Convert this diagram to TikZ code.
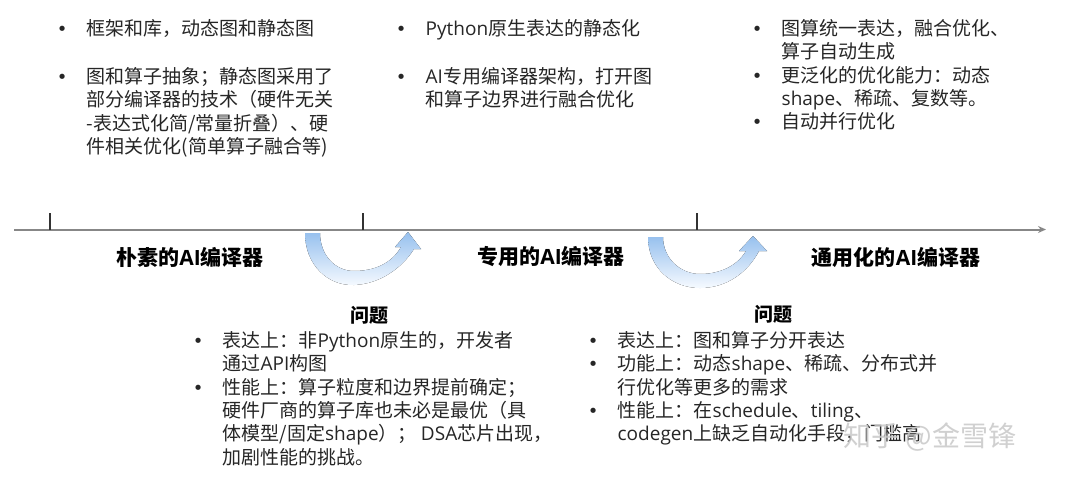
\documentclass[tikz,border=0pt]{standalone}
\usepackage{fontspec}
\setmainfont{Noto Sans CJK SC}
\newfontfamily\latfont{Open Sans}
\newfontfamily\bulfont{DejaVu Sans}
\usetikzlibrary{arrows.meta}
\definecolor{txt}{RGB}{38,38,38}
\definecolor{axisc}{RGB}{135,135,135}
\definecolor{tickc}{RGB}{50,50,50}
\definecolor{blueT}{RGB}{150,192,238}
\definecolor{blueM}{RGB}{200,223,248}
\definecolor{blueB}{RGB}{246,250,255}
\definecolor{wmc}{RGB}{200,200,200}
\newcommand\la[1]{{\latfont #1}}
\newcommand\bi{\makebox[30.5pt][l]{\makebox[12pt][c]{\bulfont\fontsize{18pt}{18pt}\selectfont •}}}
\newcommand\ci{\hspace*{30.5pt}}
\newcommand\fs{\rule{0pt}{17pt}}
\begin{document}
\begin{tikzpicture}[x=1pt,y=-1pt,
  body/.style={anchor=north west, inner sep=0pt, align=left, text=txt, font=\fontsize{19pt}{23.4pt}\selectfont},
  head/.style={inner sep=0pt, text=black, font=\fontsize{21pt}{24pt}\selectfont\bfseries},
  qhead/.style={inner sep=0pt, text=black, font=\fontsize{19pt}{22pt}\selectfont\bfseries},
  band/.style={top color=blueT, middle color=blueM, bottom color=blueB, draw=none},
  axisline/.style={draw=axisc, line width=2pt, -{Stealth[length=8pt,width=7pt]}},
  tickline/.style={draw=tickc, line width=1.8pt}]
\useasboundingbox (0,0) rectangle (1080,477);
\fill[white] (0,0) rectangle (1080,477);

% timeline
\coordinate (ax0) at (14,229.5);
\coordinate (ax1) at (1046,229.5);
\draw[axisline] (ax0) -- (ax1);
\coordinate (t1) at (50,229.5);
\coordinate (t2) at (363,229.5);
\coordinate (t3) at (697,229.5);
\draw[tickline] (t1) -- ++(0,-17);
\draw[tickline] (t2) -- ++(0,-17);
\draw[tickline] (t3) -- ++(0,-17);

% curved arrows
\fill[band] (305,233) .. controls (305,265) and (328,286) .. (354,285)
  .. controls (380,284) and (402,268) .. (414,249) -- (421,249) -- (408,232) -- (395,247) -- (401,247)
  .. controls (392,263) and (375,271) .. (354,271)
  .. controls (335,271) and (320,255) .. (320,233) -- cycle;
\fill[band] (648,237) .. controls (648,268) and (672,288) .. (700,288)
  .. controls (727,288) and (748,272) .. (759,251) -- (767,251) -- (753,236) -- (739,251) -- (746,251)
  .. controls (737,266) and (720,274) .. (700,274)
  .. controls (680,274) and (663,258) .. (663,237) -- cycle;

% stage titles
\node[head] (h1) at (190,257) {朴素的\la{AI}编译器};
\node[head] (h2) at (551,257) {专用的\la{AI}编译器};
\node[head] (h3) at (896,257) {通用化的\la{AI}编译器};

% top texts
\node[body] (c1) at (56,18) {\fs\bi 框架和库，动态图和静态图\\[24.6pt]
\bi 图和算子抽象；静态图采用了\\
\ci 部分编译器的技术（硬件无关\\
\ci -表达式化简/常量折叠）、硬\\
\ci 件相关优化(简单算子融合等)};

\node[body] (c2) at (395,18) {\fs\bi \la{Python}原生表达的静态化\\[24.6pt]
\bi \la{AI}专用编译器架构，打开图\\
\ci 和算子边界进行融合优化};

\node[body] (c3) at (751,18) {\fs\bi 图算统一表达，融合优化、\\
\ci 算子自动生成\\
\bi 更泛化的优化能力：动态\\
\ci \la{shape}、稀疏、复数等。\\
\bi 自动并行优化};

% problems
\node[qhead] (q1) at (369,315) {问题};
\node[body] (p1) at (192,330) {\fs\bi 表达上：非\la{Python}原生的，开发者\\
\ci 通过\la{API}构图\\
\bi 性能上：算子粒度和边界提前确定；\\
\ci 硬件厂商的算子库也未必是最优（具\\
\ci 体模型/固定\la{shape}）； \la{DSA}芯片出现，\\
\ci 加剧性能的挑战。};

\node[qhead] (q2) at (773,314) {问题};
\node[body] (p2) at (587,330) {\fs\bi 表达上：图和算子分开表达\\
\bi 功能上：动态\la{shape}、稀疏、分布式并\\
\ci 行优化等更多的需求\\
\bi 性能上：在\la{schedule}、\la{tiling}、\\
\ci \la{codegen}上缺乏自动化手段，门槛高};

% watermark
\node[inner sep=0pt, text=wmc, opacity=0.85, font=\fontsize{28pt}{30pt}\selectfont] (wm) at (930,437) {知乎 @金雪锋};
\end{tikzpicture}
\end{document}
